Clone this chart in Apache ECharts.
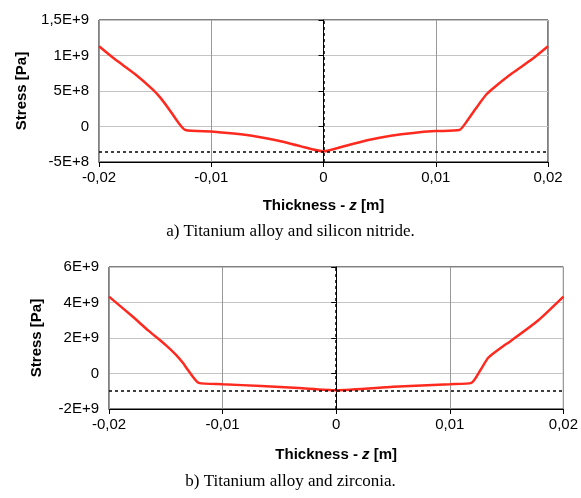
<!DOCTYPE html>
<html>
<head>
<meta charset="utf-8">
<script src="https://cdn.jsdelivr.net/npm/echarts@6/dist/echarts.min.js"></script>
<style>
  html, body { margin: 0; padding: 0; background: #fff; }
  #chart { width: 581px; height: 498px; }
</style>
</head>
<body>
<div id="chart"></div>
<script>
// a) Titanium alloy and silicon nitride
var topZ = [-0.02, -0.0186, -0.0168, -0.0152, -0.0145, -0.0137, -0.013, -0.0123, -0.01, -0.008, -0.006, -0.004, -0.002, 0,
            0.002, 0.004, 0.006, 0.008, 0.01, 0.0121, 0.0128, 0.0136, 0.0145, 0.0152, 0.0168, 0.0186, 0.02];
var topStress = [1.13e9, 0.95e9, 0.74e9, 0.52e9, 0.40e9, 0.23e9, 0.07e9, -0.05e9, -0.07e9, -0.10e9, -0.14e9, -0.20e9, -0.28e9, -0.35e9,
                 -0.27e9, -0.19e9, -0.13e9, -0.09e9, -0.065e9, -0.05e9, 0.08e9, 0.26e9, 0.45e9, 0.55e9, 0.75e9, 0.95e9, 1.13e9];
var topRef = -3.5e8;

// b) Titanium alloy and zirconia
var botZ = [-0.02, -0.018, -0.0165, -0.015, -0.0141, -0.0135, -0.013, -0.0121, -0.01, -0.0066, -0.0033, 0,
            0.005, 0.01, 0.0119, 0.0127, 0.0134, 0.0145, 0.0154, 0.0178, 0.02];
var botStress = [4.33e9, 3.25e9, 2.4e9, 1.6e9, 1.05e9, 0.6e9, 0.15e9, -0.53e9, -0.6e9, -0.71e9, -0.82e9, -0.94e9,
                 -0.75e9, -0.6e9, -0.53e9, 0.2e9, 0.9e9, 1.45e9, 1.85e9, 3.0e9, 4.33e9];
var botRef = -9.5e8;

var captions = ['a) Titanium alloy and silicon nitride.', 'b) Titanium alloy and zirconia.'];

var SANS = '"Liberation Sans", Arial, sans-serif';
var SERIF = '"Liberation Serif", "Times New Roman", serif';

function zip(xs, ys) {
    return xs.map(function (x, i) { return [x, ys[i]]; });
}

function fmtX(v) {
    if (Math.abs(v) < 1e-12) return '0';
    return v.toFixed(2).replace('.', ',');
}

function fmtY(v) {
    if (v === 0) return '0';
    var e = Math.floor(Math.log10(Math.abs(v)) + 1e-9);
    var m = Math.round(v / Math.pow(10, e) * 100) / 100;
    return String(m).replace('.', ',') + 'E+' + e;
}

var nameRich = {
    b: { fontFamily: SANS, fontWeight: 'bold', fontSize: 15, color: '#000' },
    i: { fontFamily: SANS, fontWeight: 'bold', fontStyle: 'italic', fontSize: 15, color: '#000' }
};

function xAxisFor(idx, gap) {
    return {
        type: 'value', gridIndex: idx, min: -0.02, max: 0.02, interval: 0.01,
        name: '{b|Thickness - }{i|z}{b| [m]}',
        nameLocation: 'middle', nameGap: gap,
        nameTextStyle: { rich: nameRich },
        axisLine: { show: true, onZero: false, lineStyle: { color: '#000', width: 1 } },
        axisTick: { show: true, length: 5, lineStyle: { color: '#000' } },
        axisLabel: { margin: 8, fontFamily: SANS, fontSize: 15, color: '#000', formatter: fmtX },
        // no grey line under the dashed zero line
        splitLine: { show: true, lineStyle: { color: ['#999', '#999', 'rgba(0,0,0,0)', '#999', '#999'], width: 1 } }
    };
}

function yAxisFor(idx, min, max, step, gap) {
    return {
        type: 'value', gridIndex: idx, min: min, max: max, interval: step,
        name: 'Stress [Pa]',
        nameLocation: 'middle', nameGap: gap, nameRotate: 90,
        nameTextStyle: { fontFamily: SANS, fontWeight: 'bold', fontSize: 15, color: '#000' },
        axisLine: { show: true, lineStyle: { color: '#000', width: 1 } },
        axisTick: { show: true, length: 5, lineStyle: { color: '#000' } },
        axisLabel: { margin: 10, fontFamily: SANS, fontSize: 15, color: '#000', formatter: fmtY },
        splitLine: { show: true, lineStyle: { color: '#c4c4c4', width: 1 } }
    };
}

function seriesFor(idx, data, ref) {
    return {
        type: 'line', xAxisIndex: idx, yAxisIndex: idx,
        data: data, showSymbol: false, smooth: 0.2,
        lineStyle: { color: '#ff2a1f', width: 2.5 },
        z: 3,
        markLine: {
            silent: true, symbol: 'none', animation: false,
            label: { show: false },
            lineStyle: { color: '#000', type: [3, 3], width: 1.5 },
            data: [{ yAxis: ref }, { xAxis: 0 }]
        }
    };
}

var chart = echarts.init(document.getElementById('chart'), null, { renderer: 'canvas' });

var option = {
    animation: false,
    backgroundColor: '#fff',
    grid: [
        { left: 99, top: 20, width: 449, height: 142, show: true, borderColor: '#000', borderWidth: 1, backgroundColor: 'transparent' },
        { left: 109, top: 267, width: 456, height: 142, show: true, borderColor: '#000', borderWidth: 1, backgroundColor: 'transparent' }
    ],
    xAxis: [xAxisFor(0, 36), xAxisFor(1, 38)],
    yAxis: [yAxisFor(0, -5e8, 1.5e9, 5e8, 70), yAxisFor(1, -2e9, 6e9, 2e9, 65)],
    series: [seriesFor(0, zip(topZ, topStress), topRef), seriesFor(1, zip(botZ, botStress), botRef)],
    graphic: [
        { type: 'text', left: 'center', top: 223, style: { text: captions[0], font: '17px ' + SERIF, fill: '#000' }, x: -10 },
        { type: 'text', left: 'center', top: 473, style: { text: captions[1], font: '17px ' + SERIF, fill: '#000' } }
    ]
};

chart.setOption(option);
</script>
</body>
</html>
